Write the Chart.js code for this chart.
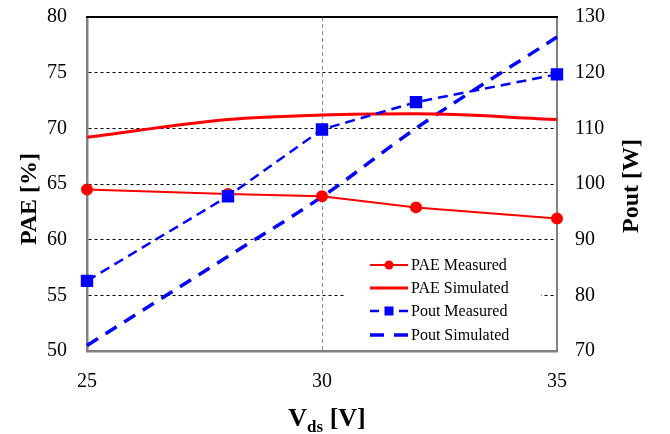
<!DOCTYPE html>
<html>
<head>
<meta charset="utf-8">
<script src="https://cdn.jsdelivr.net/npm/chart.js@4"></script>
<style>
  body { margin: 0; background: #fff; }
  canvas { display: block; }
</style>
</head>
<body>
<canvas id="grafico" width="670" height="434"></canvas>
<script>
// drain voltage points
const vds = [25, 28, 30, 32, 35];
const paeMedido = [64.5, 64.1, 63.9, 62.9, 61.9];
const paeSimulado = [69.2, 70.8, 71.2, 71.3, 70.8];
const poutMedido = [82.6, 97.8, 109.8, 114.7, 119.7];
const poutSimulado = [71.0, 87.0, 97.7, 110.0, 126.4];

const ticksPae = [50, 55, 60, 65, 70, 75, 80];
const ticksPout = [70, 80, 90, 100, 110, 120, 130];
const ticksVds = [25, 30, 35];

const pontos = ys => vds.map((x, i) => ({ x: x, y: ys[i] }));

const serif = "'Liberation Serif', 'Times New Roman', serif";
const VERMELHO = '#ff0000';
const AZUL = '#0000ff';

// no extra room for half labels, the area is fixed by hand
const semSobra = s => {
  s.paddingTop = 0; s.paddingBottom = 0;
  s.paddingLeft = 0; s.paddingRight = 0;
};

// titles, top border and the in-plot legend
const extras = {
  id: 'extras',
  beforeDatasetsDraw(chart) {
    const c = chart.ctx, a = chart.chartArea;
    c.save();
    c.strokeStyle = '#000';
    c.lineWidth = 2;
    c.beginPath();
    c.moveTo(a.left - 1, a.top);
    c.lineTo(a.right + 1, a.top);
    c.stroke();
    c.restore();
  },
  afterDatasetsDraw(chart) {
    const c = chart.ctx;
    c.save();
    c.fillStyle = '#000';

    // left title
    c.font = 'bold 24px ' + serif;
    c.textAlign = 'center';
    c.textBaseline = 'middle';
    c.save();
    c.translate(30, 199);
    c.rotate(-Math.PI / 2);
    c.fillText('PAE [%]', 0, 0);
    c.restore();

    // right title
    c.save();
    c.translate(632, 186);
    c.rotate(-Math.PI / 2);
    c.fillText('Pout [W]', 0, 0);
    c.restore();

    // bottom title with subscript
    c.textAlign = 'left';
    c.textBaseline = 'alphabetic';
    const fGrande = 'bold 26px ' + serif, fPeq = 'bold 17px ' + serif;
    c.font = fGrande; const wV = c.measureText('V').width;
    c.font = fPeq; const wDs = c.measureText('ds').width;
    c.font = fGrande; const wFim = c.measureText(' [V]').width;
    let x0 = 327 - (wV + wDs + wFim) / 2;
    const base = 426;
    c.font = fGrande; c.fillText('V', x0, base); x0 += wV;
    c.font = fPeq; c.fillText('ds', x0, base + 6); x0 += wDs;
    c.font = fGrande; c.fillText(' [V]', x0, base);

    // legend
    c.fillStyle = '#fff';
    c.fillRect(344, 243, 197, 106);
    const linhas = [265, 288, 311, 335];
    const ds = chart.data.datasets;
    c.font = '16px ' + serif;
    c.textBaseline = 'middle';
    linhas.forEach((y, i) => {
      const d = ds[i];
      c.strokeStyle = d.borderColor;
      c.lineWidth = d.borderWidth;
      c.beginPath();
      if (i === 2) {
        c.moveTo(370, y); c.lineTo(379, y);
        c.moveTo(399, y); c.lineTo(408, y);
      } else if (i === 3) {
        c.moveTo(370, y); c.lineTo(384, y);
        c.moveTo(394, y); c.lineTo(408, y);
      } else {
        c.moveTo(370, y); c.lineTo(408, y);
      }
      c.stroke();
      c.fillStyle = d.borderColor;
      if (i === 0) {
        c.beginPath(); c.arc(389, y, 4.5, 0, Math.PI * 2); c.fill();
      } else if (i === 2) {
        c.fillRect(384.5, y - 4.5, 9, 9);
      }
      c.fillStyle = '#000';
      c.fillText(d.label, 411, y + 1);
    });
    c.restore();
  }
};

new Chart(document.getElementById('grafico'), {
  type: 'line',
  data: {
    datasets: [
      {
        label: 'PAE Measured',
        data: pontos(paeMedido),
        yAxisID: 'y',
        borderColor: VERMELHO,
        backgroundColor: VERMELHO,
        borderWidth: 2,
        pointRadius: 5,
        pointStyle: 'circle',
        tension: 0,
        order: 1
      },
      {
        label: 'PAE Simulated',
        data: pontos(paeSimulado),
        yAxisID: 'y',
        borderColor: VERMELHO,
        borderWidth: 3,
        pointRadius: 0,
        cubicInterpolationMode: 'monotone',
        order: 2
      },
      {
        label: 'Pout Measured',
        data: pontos(poutMedido),
        yAxisID: 'y2',
        borderColor: AZUL,
        backgroundColor: AZUL,
        borderWidth: 2.5,
        borderDash: [10, 6],
        pointRadius: 7,
        pointStyle: 'rect',
        tension: 0,
        order: 0
      },
      {
        label: 'Pout Simulated',
        data: pontos(poutSimulado),
        yAxisID: 'y2',
        borderColor: AZUL,
        borderWidth: 3.5,
        borderDash: [13, 9],
        pointRadius: 0,
        cubicInterpolationMode: 'monotone',
        order: 3
      }
    ]
  },
  options: {
    responsive: false,
    animation: false,
    clip: false,
    layout: { padding: { top: 17, left: 0, right: 0, bottom: 0 } },
    plugins: {
      legend: { display: false },
      tooltip: { enabled: false }
    },
    scales: {
      x: {
        type: 'linear',
        min: 25,
        max: 35,
        afterFit: s => { s.height = 83; semSobra(s); },
        afterBuildTicks: s => { s.ticks = ticksVds.map(v => ({ value: v })); },
        ticks: { padding: 19, color: '#000', font: { family: serif, size: 20 } },
        grid: {
          drawTicks: false,
          color: ctx => ctx.tick && ctx.tick.value === 30 ? '#8c8c8c' : 'rgba(0,0,0,0)',
          lineWidth: 1
        },
        border: { color: '#808080', width: 2.5, dash: [4, 3] }
      },
      y: {
        position: 'left',
        min: 50,
        max: 80,
        afterFit: s => { s.width = 87; semSobra(s); },
        afterBuildTicks: s => { s.ticks = ticksPae.map(v => ({ value: v })); },
        ticks: { padding: 20, color: '#000', font: { family: serif, size: 20 } },
        grid: {
          drawTicks: false,
          color: ctx => (ctx.tick && (ctx.tick.value === 50 || ctx.tick.value === 80)) ? 'rgba(0,0,0,0)' : '#000',
          lineWidth: 1
        },
        border: { color: '#808080', width: 2.5, dash: [3, 3] }
      },
      y2: {
        position: 'right',
        min: 70,
        max: 130,
        afterFit: s => { s.width = 113; semSobra(s); },
        afterBuildTicks: s => { s.ticks = ticksPout.map(v => ({ value: v })); },
        ticks: { padding: 18, color: '#000', font: { family: serif, size: 20 } },
        grid: { drawTicks: false, drawOnChartArea: false },
        border: { color: '#808080', width: 2 }
      }
    }
  },
  plugins: [extras]
});
</script>
</body>
</html>
